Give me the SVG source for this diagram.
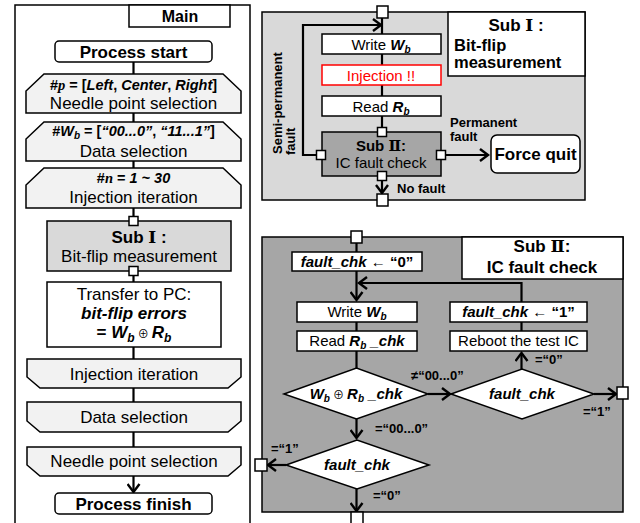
<svg xmlns="http://www.w3.org/2000/svg" width="640" height="523" viewBox="0 0 640 523">
<style>
text{font-family:"Liberation Sans",Arial,"Noto Sans CJK JP",sans-serif;fill:#000}
.b{font-weight:bold}
.i{font-style:italic}
.bi{font-weight:bold;font-style:italic}
.m{text-anchor:middle}
.f17{font-size:17px}
.f15{font-size:15px}
.f13{font-size:13px;font-weight:bold}
.rn{font-family:"DejaVu Serif","Liberation Serif",serif;font-weight:bold}
.box{fill:#fff;stroke:#000;stroke-width:1.5}
.loop{fill:#f2f2f2;stroke:#000;stroke-width:1.5}
.g1{fill:#d9d9d9;stroke:#000;stroke-width:1.5}
.g2{fill:#a6a6a6;stroke:#000;stroke-width:1.5}
.sq{fill:#fff;stroke:#000;stroke-width:1.5}
.ln{fill:none;stroke:#000;stroke-width:2.2}
.ar{fill:none;stroke:#000;stroke-width:2.2;marker-end:url(#ah)}
.serif{font-family:"Liberation Serif","Times New Roman",serif}
</style>
<defs>
<marker id="ah" markerUnits="userSpaceOnUse" markerWidth="12" markerHeight="14" refX="9" refY="7" orient="auto">
<path d="M1,1 L9,7 L1,13" fill="none" stroke="#000" stroke-width="2.4"/>
</marker>
</defs>
<rect width="640" height="523" fill="#fff"/>

<!-- MAIN PANEL -->
<g id="main-panel">
<rect x="15" y="5" width="235" height="530" fill="#fff" stroke="#000" stroke-width="1.5"/>
<rect x="129" y="5" width="101" height="22" class="box"/>
<text x="180" y="22" class="b m" font-size="16">Main</text>
</g>
<g id="main-connectors">
<line x1="133.5" y1="62" x2="133.5" y2="74" class="ln"/>
<line x1="133.5" y1="113" x2="133.5" y2="122" class="ln"/>
<line x1="133.5" y1="161" x2="133.5" y2="168" class="ln"/>
<line x1="133.5" y1="208" x2="133.5" y2="221" class="ln"/>
<line x1="133.5" y1="271" x2="133.5" y2="282" class="ln"/>
<line x1="133.5" y1="347" x2="133.5" y2="359" class="ln"/>
<line x1="133.5" y1="388" x2="133.5" y2="402" class="ln"/>
<line x1="133.5" y1="432" x2="133.5" y2="447" class="ln"/>
<line x1="133.5" y1="476" x2="133.5" y2="492" class="ar"/>
</g>
<g id="process-start">
<rect x="55" y="41" width="157" height="21" rx="4" class="box" stroke-width="2"/>
<text x="133.5" y="58" class="b m f17">Process start</text>
</g>
<g id="needle-loop-start">
<polygon points="44,74 223,74 241,91 241,113 26,113 26,91" class="loop"/>
<text x="133.5" y="90" class="b m" font-size="14.5">#<tspan class="serif i">p</tspan> = [<tspan class="i">Left</tspan>, <tspan class="i">Center</tspan>, <tspan class="i">Right</tspan>]</text>
<text x="133.5" y="109" class="m f17">Needle point selection</text>
</g>
<g id="data-loop-start">
<polygon points="44,122 223,122 241,139 241,161 26,161 26,139" class="loop"/>
<text x="133.5" y="136" class="b m" font-size="14.5">#<tspan class="i">W</tspan><tspan class="i" font-size="10" dy="3">b</tspan><tspan dy="-3"> = [</tspan><tspan class="i">“00...0”</tspan>, <tspan class="i">“11...1”</tspan>]</text>
<text x="133.5" y="157" class="m f17">Data selection</text>
</g>
<g id="injection-loop-start">
<polygon points="44,168 223,168 241,185 241,208 26,208 26,185" class="loop"/>
<text x="133.5" y="183" class="b m" font-size="14.5">#<tspan class="serif i">n</tspan> = <tspan class="i">1 ~ 30</tspan></text>
<text x="133.5" y="203" class="m f17">Injection iteration</text>
</g>
<g id="sub1-call">
<rect x="47" y="221" width="184" height="50" class="g1"/>
<rect x="129" y="216.5" width="9" height="9" class="sq"/>
<rect x="129" y="266.5" width="9" height="9" class="sq"/>
<text x="139" y="243" class="b m f17">Sub <tspan class="rn">Ⅰ</tspan> :</text>
<text x="139" y="262" class="m f17">Bit-flip measurement</text>
</g>
<g id="transfer">
<rect x="47" y="282" width="174" height="65" class="box"/>
<text x="134" y="300" class="m f17">Transfer to PC:</text>
<text x="134" y="319" class="bi m f17">bit-flip errors</text>
<text x="134" y="338" class="b m f17">= <tspan class="i">W</tspan><tspan class="i" font-size="12" dy="4">b</tspan><tspan dy="-4" font-weight="normal" font-size="11"> ⊕ </tspan><tspan class="i">R</tspan><tspan class="i" font-size="12" dy="4">b</tspan></text>
</g>
<g id="injection-loop-end">
<polygon points="27,359 241,359 241,377 228,388 40,388 27,377" class="loop"/>
<text x="134" y="380" class="m f17">Injection iteration</text>
</g>
<g id="data-loop-end">
<polygon points="27,402 241,402 241,421 228,432 40,432 27,421" class="loop"/>
<text x="134" y="423" class="m f17">Data selection</text>
</g>
<g id="needle-loop-end">
<polygon points="27,447 241,447 241,465 228,476 40,476 27,465" class="loop"/>
<text x="134" y="467" class="m f17">Needle point selection</text>
</g>
<g id="process-finish">
<rect x="55" y="493" width="157" height="21" rx="4" class="box" stroke-width="2"/>
<text x="133.5" y="510" class="b m f17">Process finish</text>
</g>

<!-- SUB I PANEL -->
<g id="sub1-panel">
<rect x="262" y="12" width="323" height="188" class="g1"/>
<rect x="448" y="12" width="137" height="64" class="box"/>
<text x="516" y="31" class="b m f17">Sub <tspan class="rn">Ⅰ</tspan> :</text>
<text x="454" y="51" class="b" font-size="16.5">Bit-flip</text>
<text x="454" y="68" class="b" font-size="16.5">measurement</text>
</g>
<g id="sub1-connectors">
<line x1="382" y1="18" x2="382" y2="34" class="ln"/>
<line x1="382" y1="54" x2="382" y2="65" class="ln"/>
<line x1="382" y1="85" x2="382" y2="96" class="ln"/>
<line x1="382" y1="116" x2="382" y2="128" class="ln"/>
<polyline points="317,155 303,155 303,25 381,25" class="ar"/>
<line x1="445" y1="155" x2="488" y2="155" class="ar"/>
<line x1="382" y1="180" x2="382" y2="193" class="ar"/>
<text x="450" y="127" class="f13">Permanent</text>
<text x="450" y="141" class="f13">fault</text>
<text x="397" y="193" class="f13">No fault</text>
<text transform="translate(282,154) rotate(-90)" class="f13">Semi-permanent</text>
<text transform="translate(295,155) rotate(-90)" class="f13">fault</text>
</g>
<g id="sub1-entry"><rect x="377" y="6" width="11" height="12" class="sq"/></g>
<g id="write-wb">
<rect x="322" y="34" width="119" height="20" class="box"/>
<text x="381" y="50" class="m f15">Write <tspan class="bi">W</tspan><tspan class="bi" font-size="10" dy="3">b</tspan></text>
</g>
<g id="injection">
<rect x="322" y="65" width="119" height="20" fill="#fff" stroke="#ff0000" stroke-width="1.5"/>
<text x="381" y="81" class="m f15" style="fill:#ff0000">Injection !!</text>
</g>
<g id="read-rb">
<rect x="322" y="96" width="119" height="20" class="box"/>
<text x="381" y="112" class="m f15">Read <tspan class="bi">R</tspan><tspan class="bi" font-size="10" dy="3">b</tspan></text>
</g>
<g id="sub2-call">
<rect x="322" y="132" width="119" height="44" class="g2"/>
<rect x="377.5" y="127.5" width="9" height="9" class="sq"/>
<rect x="316.5" y="150.5" width="9" height="9" class="sq"/>
<rect x="436.5" y="150.5" width="9" height="9" class="sq"/>
<rect x="377.5" y="171.5" width="9" height="9" class="sq"/>
<text x="381" y="151" class="b m f15">Sub <tspan class="rn">Ⅱ</tspan>:</text>
<text x="381" y="168" class="m f15">IC fault check</text>
</g>
<g id="force-quit">
<rect x="491" y="135" width="89" height="38" rx="6" class="box" stroke-width="2"/>
<text x="535.5" y="160" class="b m f17">Force quit</text>
</g>
<g id="sub1-exit"><rect x="377" y="194" width="11" height="12" class="sq"/></g>

<!-- SUB II PANEL -->
<g id="sub2-panel">
<rect x="262" y="237" width="361" height="275" class="g2"/>
<rect x="462" y="237" width="161" height="42" class="box"/>
<text x="542" y="252" class="b m f17">Sub <tspan class="rn">Ⅱ</tspan>:</text>
<text x="542" y="273" class="b m f17">IC fault check</text>
</g>
<g id="sub2-connectors">
<line x1="356.5" y1="243" x2="356.5" y2="252" class="ln"/>
<line x1="356.5" y1="271" x2="356.5" y2="300" class="ar"/>
<polyline points="521.5,302 521.5,283 359,283" class="ar"/>
<line x1="356.5" y1="322" x2="356.5" y2="331" class="ln"/>
<line x1="356.5" y1="351" x2="356.5" y2="368" class="ln"/>
<line x1="521.5" y1="322" x2="521.5" y2="331" class="ln"/>
<line x1="521.5" y1="369" x2="521.5" y2="353" class="ar"/>
<line x1="428" y1="394" x2="450" y2="394" class="ar"/>
<line x1="594" y1="394" x2="616" y2="394" class="ar"/>
<line x1="356.5" y1="419" x2="356.5" y2="438" class="ar"/>
<line x1="286" y1="465" x2="268" y2="465" class="ar"/>
<line x1="356.5" y1="489" x2="356.5" y2="511" class="ar"/>
<text x="535" y="364" class="f13">=“0”</text>
<text x="411" y="380" class="f13">≠“00...0”</text>
<text x="583" y="416" class="f13">=“1”</text>
<text x="375" y="433" class="f13">=“00...0”</text>
<text x="271" y="453" class="f13">=“1”</text>
<text x="373" y="500" class="f13">=“0”</text>
</g>
<g id="sub2-entry"><rect x="351" y="231" width="11" height="12" class="sq"/></g>
<g id="init-chk">
<rect x="292" y="252" width="130" height="19" class="box"/>
<text x="357" y="267" class="m f15"><tspan class="bi">fault_chk</tspan> ← <tspan class="b">“0”</tspan></text>
</g>
<g id="write-wb2">
<rect x="297" y="302" width="120" height="20" class="box"/>
<text x="357" y="317" class="m f15">Write <tspan class="bi">W</tspan><tspan class="bi" font-size="10" dy="3">b</tspan></text>
</g>
<g id="read-rbchk">
<rect x="297" y="331" width="120" height="20" class="box"/>
<text x="357" y="346" class="m f15">Read <tspan class="bi">R</tspan><tspan class="bi" font-size="10" dy="3">b</tspan><tspan class="bi" dy="-3"> _chk</tspan></text>
</g>
<g id="set-chk1">
<rect x="450" y="302" width="137" height="20" class="box"/>
<text x="518.5" y="317" class="m f15"><tspan class="bi">fault_chk</tspan> ← <tspan class="b">“1”</tspan></text>
</g>
<g id="reboot">
<rect x="450" y="331" width="137" height="20" class="box"/>
<text x="518.5" y="346" class="m f15">Reboot the test IC</text>
</g>
<g id="xor-check">
<polygon points="284,394 356.5,368 428,394 356.5,419" class="box"/>
<text x="356" y="399" class="bi m f15">W<tspan font-size="10" dy="3">b</tspan><tspan dy="-3" font-weight="normal" font-style="normal" font-size="11"> ⊕ </tspan>R<tspan font-size="10" dy="3">b</tspan><tspan dy="-3"> _chk</tspan></text>
</g>
<g id="chk-right">
<polygon points="451,394 522,369 594,394 522,419" class="box"/>
<text x="522" y="399" class="bi m f15">fault_chk</text>
</g>
<g id="chk-bottom">
<polygon points="286,465 357,440 429,465 357,489" class="box"/>
<text x="357" y="470" class="bi m f15">fault_chk</text>
</g>
<g id="sub2-exit-right"><rect x="617" y="387" width="11" height="12" class="sq"/></g>
<g id="sub2-exit-left"><rect x="255" y="459" width="12" height="12" class="sq"/></g>
<g id="sub2-exit-bottom"><rect x="351" y="512" width="12" height="12" class="sq"/></g>
</svg>
